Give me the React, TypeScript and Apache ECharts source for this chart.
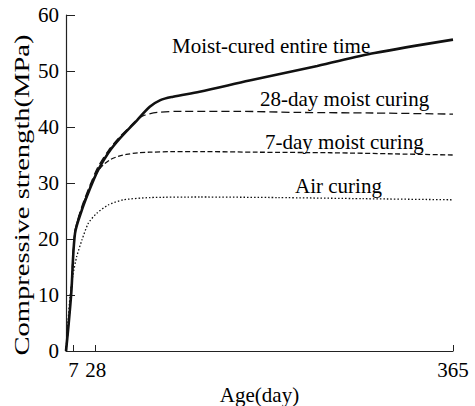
import React, { useEffect, useRef } from "react";
import * as echarts from "echarts";

// Moist-cured entire time
const mainDays = [0, 2, 5, 8.5, 15, 22, 30, 40, 51, 67, 79, 89, 101, 126, 173, 237, 291, 365];
const mainVals = [0, 3.8, 10.4, 21, 25.2, 28.7, 32.2, 35.4, 38, 41.2, 43.6, 44.8, 45.4, 46.3, 48.3, 50.9, 53.2, 55.6];

// 28-day moist curing
const d28Days = [0, 2, 5, 8.5, 15, 22, 30, 40, 51, 60, 67, 74, 86, 110, 160, 220, 290, 365];
const d28Vals = [0, 4, 11, 21.3, 25.8, 29.3, 32.8, 35.8, 38.3, 40, 41.3, 42.1, 42.6, 42.8, 42.8, 42.6, 42.5, 42.3];

// 7-day moist curing
const d7Days = [0, 2, 5, 8.5, 15, 22, 29, 35, 42, 50, 57, 68, 79, 100, 130, 180, 250, 310, 365];
const d7Vals = [0, 3.9, 11, 21.3, 25.6, 29, 31.8, 33.2, 34.2, 34.8, 35.1, 35.4, 35.5, 35.6, 35.6, 35.5, 35.4, 35.2, 35.0];

// Air curing
const airDays = [0, 2, 3.8, 6.5, 10, 15, 21, 29, 40, 54, 79, 126, 200, 280, 365];
const airVals = [0, 5.5, 9.7, 13.5, 16.8, 19.8, 22.8, 24.6, 26.1, 27, 27.4, 27.5, 27.4, 27.2, 27.0];

const xTicks = [7, 28, 365];
const seriesNames = ["Moist-cured entire time", "28-day moist curing", "7-day moist curing", "Air curing"];
const xName = "Age(day)";
const yName = "Compressive strength(MPa)";

const FONT = "Liberation Serif";

function pairs(xs: number[], ys: number[]) {
  return xs.map((x, i) => [x, ys[i]]);
}

export default function App() {
  const ref = useRef<HTMLDivElement>(null);
  useEffect(() => {
    if (!ref.current) return;
    const chart = echarts.init(ref.current, null, { renderer: "svg" });
    const ink = "#111";
    const txt = (text: string, x: number, y: number) => ({
      type: "text",
      x,
      y,
      style: {
        text,
        fill: "#000",
        fontSize: 21,
        fontFamily: FONT,
        textAlign: "left",
        textVerticalAlign: "middle",
      },
    });
    chart.setOption({
      animation: false,
      backgroundColor: "#fff",
      textStyle: { fontFamily: FONT },
      grid: { left: 66, right: 22, top: 15, bottom: 55, outerBoundsMode: "none" },
      xAxis: {
        type: "value",
        min: 0,
        max: 365,
        name: xName,
        nameLocation: "middle",
        nameGap: 31,
        nameTextStyle: { fontSize: 21, fontFamily: FONT, color: "#000" },
        axisLine: { show: true, lineStyle: { color: "#222", width: 1.2 } },
        axisTick: { show: true, inside: true, length: 6, customValues: xTicks, lineStyle: { color: "#222" } },
        axisLabel: { customValues: xTicks, fontSize: 21, fontFamily: FONT, color: "#000", margin: 8 },
        splitLine: { show: false },
      },
      yAxis: {
        type: "value",
        min: 0,
        max: 60,
        interval: 10,
        axisLine: { show: true, lineStyle: { color: "#222", width: 1.2 } },
        axisTick: { show: true, inside: true, length: 9, lineStyle: { color: "#222" } },
        axisLabel: { fontSize: 21, fontFamily: FONT, color: "#000", margin: 7 },
        splitLine: { show: false },
      },
      series: [
        {
          name: seriesNames[0],
          type: "line",
          data: pairs(mainDays, mainVals),
          showSymbol: false,
          smooth: 0.3,
          lineStyle: { color: ink, width: 2.6, type: "solid" },
          z: 5,
        },
        {
          name: seriesNames[1],
          type: "line",
          data: pairs(d28Days, d28Vals),
          showSymbol: false,
          smooth: 0.3,
          lineStyle: { color: ink, width: 1.3, type: [8, 4] },
        },
        {
          name: seriesNames[2],
          type: "line",
          data: pairs(d7Days, d7Vals),
          showSymbol: false,
          smooth: 0.3,
          lineStyle: { color: ink, width: 1.3, type: [5, 2.5] },
        },
        {
          name: seriesNames[3],
          type: "line",
          data: pairs(airDays, airVals),
          showSymbol: false,
          smooth: 0.2,
          lineStyle: { color: ink, width: 1.3, type: [1.5, 2] },
        },
      ],
      graphic: [
        {
          type: "text",
          x: 22,
          y: 195,
          rotation: Math.PI / 2,
          scaleX: 1.36,
          style: {
            text: yName,
            fill: "#000",
            fontSize: 21,
            fontFamily: FONT,
            textAlign: "center",
            textVerticalAlign: "middle",
          },
        },
        txt(seriesNames[0], 172, 46),
        txt(seriesNames[1], 260, 99),
        txt(seriesNames[2], 265, 142),
        txt(seriesNames[3], 295, 186),
      ],
    });
    return () => chart.dispose();
  }, []);
  return (
    <div
      ref={ref}
      style={{ position: "fixed", left: 0, top: 0, width: 475, height: 406, background: "#fff" }}
    />
  );
}
